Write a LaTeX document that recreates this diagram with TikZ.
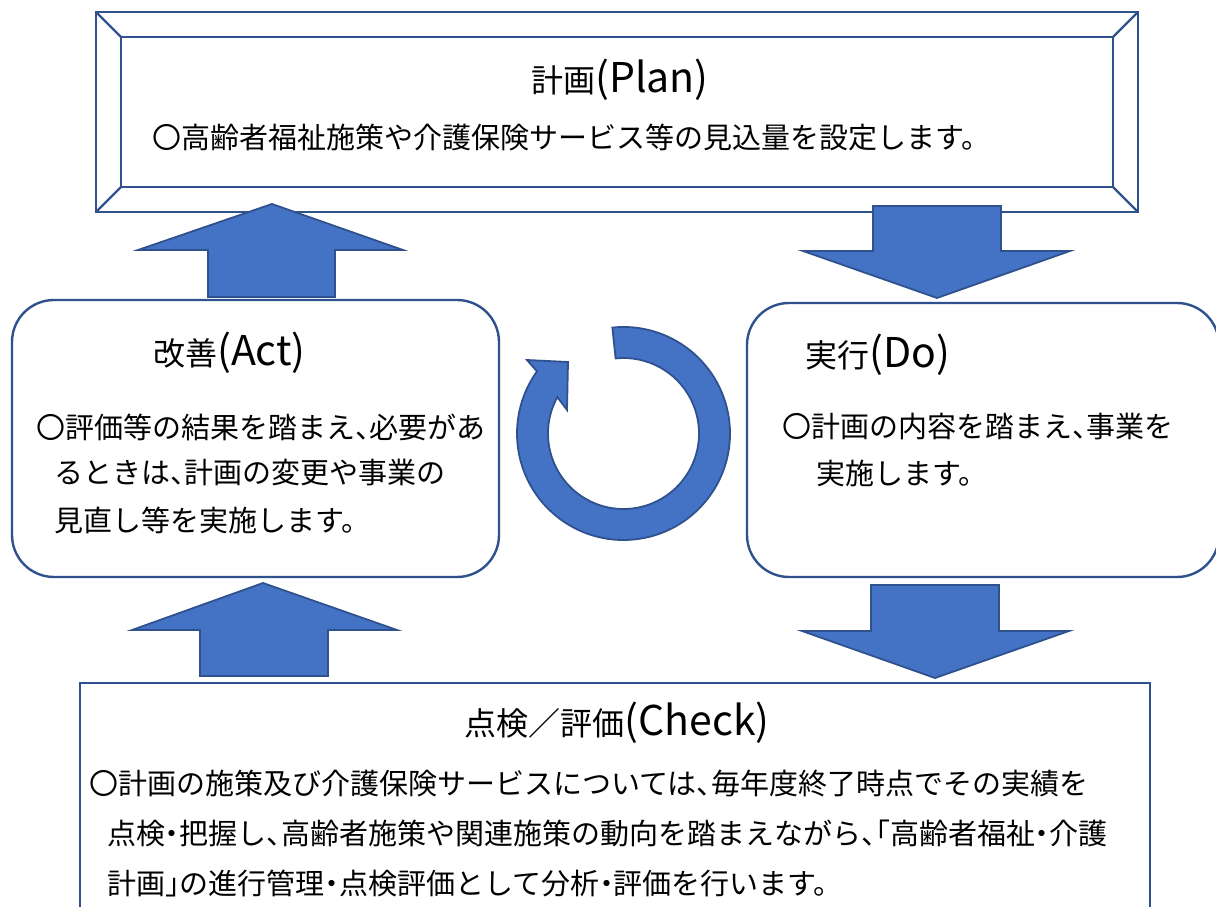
\documentclass[tikz,border=0pt]{standalone}
\usepackage{fontspec}
\setmainfont{Noto Sans CJK JP}
\newfontfamily\bodyfont[RawFeature=+halt]{Noto Sans CJK JP}
\usetikzlibrary{calc}
\definecolor{bdr}{HTML}{2F528F}
\definecolor{arrfill}{HTML}{4472C4}
\tikzset{
  boxline/.style={draw=bdr, line width=2.4pt},
  arr/.style={fill=arrfill, draw=bdr, line width=1.8pt, line join=miter},
  body/.style={anchor=west, inner sep=0pt, font=\bodyfont\fontsize{29}{34}\selectfont},
  ttl/.style={inner sep=0pt, font=\fontsize{32}{38}\selectfont},
}
\newcommand{\latbig}[1]{{\fontsize{41}{44}\selectfont #1}}
\begin{document}
\begin{tikzpicture}[x=1pt,y=1pt]
\useasboundingbox (0,0) rectangle (1216,906);
% ---- Plan bevel frame ----
\draw[boxline] (96,894) rectangle (1138,694);
\draw[boxline] (121,869) rectangle (1113,719);
\draw[boxline] (96,894) -- (121,869) (1138,894) -- (1113,869)
               (96,694) -- (121,719) (1138,694) -- (1113,719);
\node[ttl] (plant) at (620,826) {計画\latbig{(Plan)}};
\node[body] (planb) at (152,769) {〇高齢者福祉施策や介護保険サービス等の見込量を設定します。};
% ---- Act box ----
\draw[boxline, rounded corners=42pt] (12,606) rectangle (499,329);
\node[ttl, anchor=west] (actt) at (153,553) {改善\latbig{(Act)}};
\node[body] (act1) at (36,479) {〇評価等の結果を踏まえ、必要があ};
\node[body] (act2) at (54,433) {るときは、計画の変更や事業の};
\node[body] (act3) at (54,386) {見直し等を実施します。};
% ---- Do box ----
\draw[boxline, rounded corners=42pt] (747,603) rectangle (1219,329);
\node[ttl, anchor=west] (dot) at (805,551) {実行\latbig{(Do)}};
\node[body] (do1) at (782,479) {〇計画の内容を踏まえ、事業を};
\node[body] (do2) at (816,433) {実施します。};
% ---- Check box ----
\draw[boxline] (80,-20) -- (80,223) -- (1150,223) -- (1150,-20);
\node[ttl] (checkt) at (617,183) {点検／評価\latbig{(Check)}};
\node[body] (ch1) at (89,123) {〇計画の施策及び介護保険サービスについては、毎年度終了時点でその実績を};
\node[body] (ch2) at (107,73) {点検・把握し、高齢者施策や関連施策の動向を踏まえながら、「高齢者福祉・介護};
\node[body] (ch3) at (107,23) {計画」の進行管理・点検評価として分析・評価を行います。};
% ---- block arrows ----
\draw[arr] (208,609) -- (208,656) -- (138,656) -- (272,702) -- (403,656) -- (335,656) -- (335,609) -- cycle;
\draw[arr] (873,700) -- (873,655) -- (803,655) -- (937,608) -- (1070,655) -- (1001,655) -- (1001,700) -- cycle;
\draw[arr] (200,230) -- (200,276) -- (132,276) -- (263,323) -- (397,276) -- (328,276) -- (328,230) -- cycle;
\draw[arr] (871,321) -- (871,275) -- (802,275) -- (935,228) -- (1069,275) -- (999,275) -- (999,321) -- cycle;
% ---- circular arrow ----
\coordinate (cc) at (623.5,472.5);
\draw[arr] ($(cc)+(96:106.5)$) arc[start angle=96, end angle=-215.7, radius=106.5]
  -- (527,546) -- (568,544) -- (567,496)
  -- ($(cc)+(151.2:75.5)$) arc[start angle=-208.8, end angle=96, radius=75.5] -- cycle;
\end{tikzpicture}
\end{document}
